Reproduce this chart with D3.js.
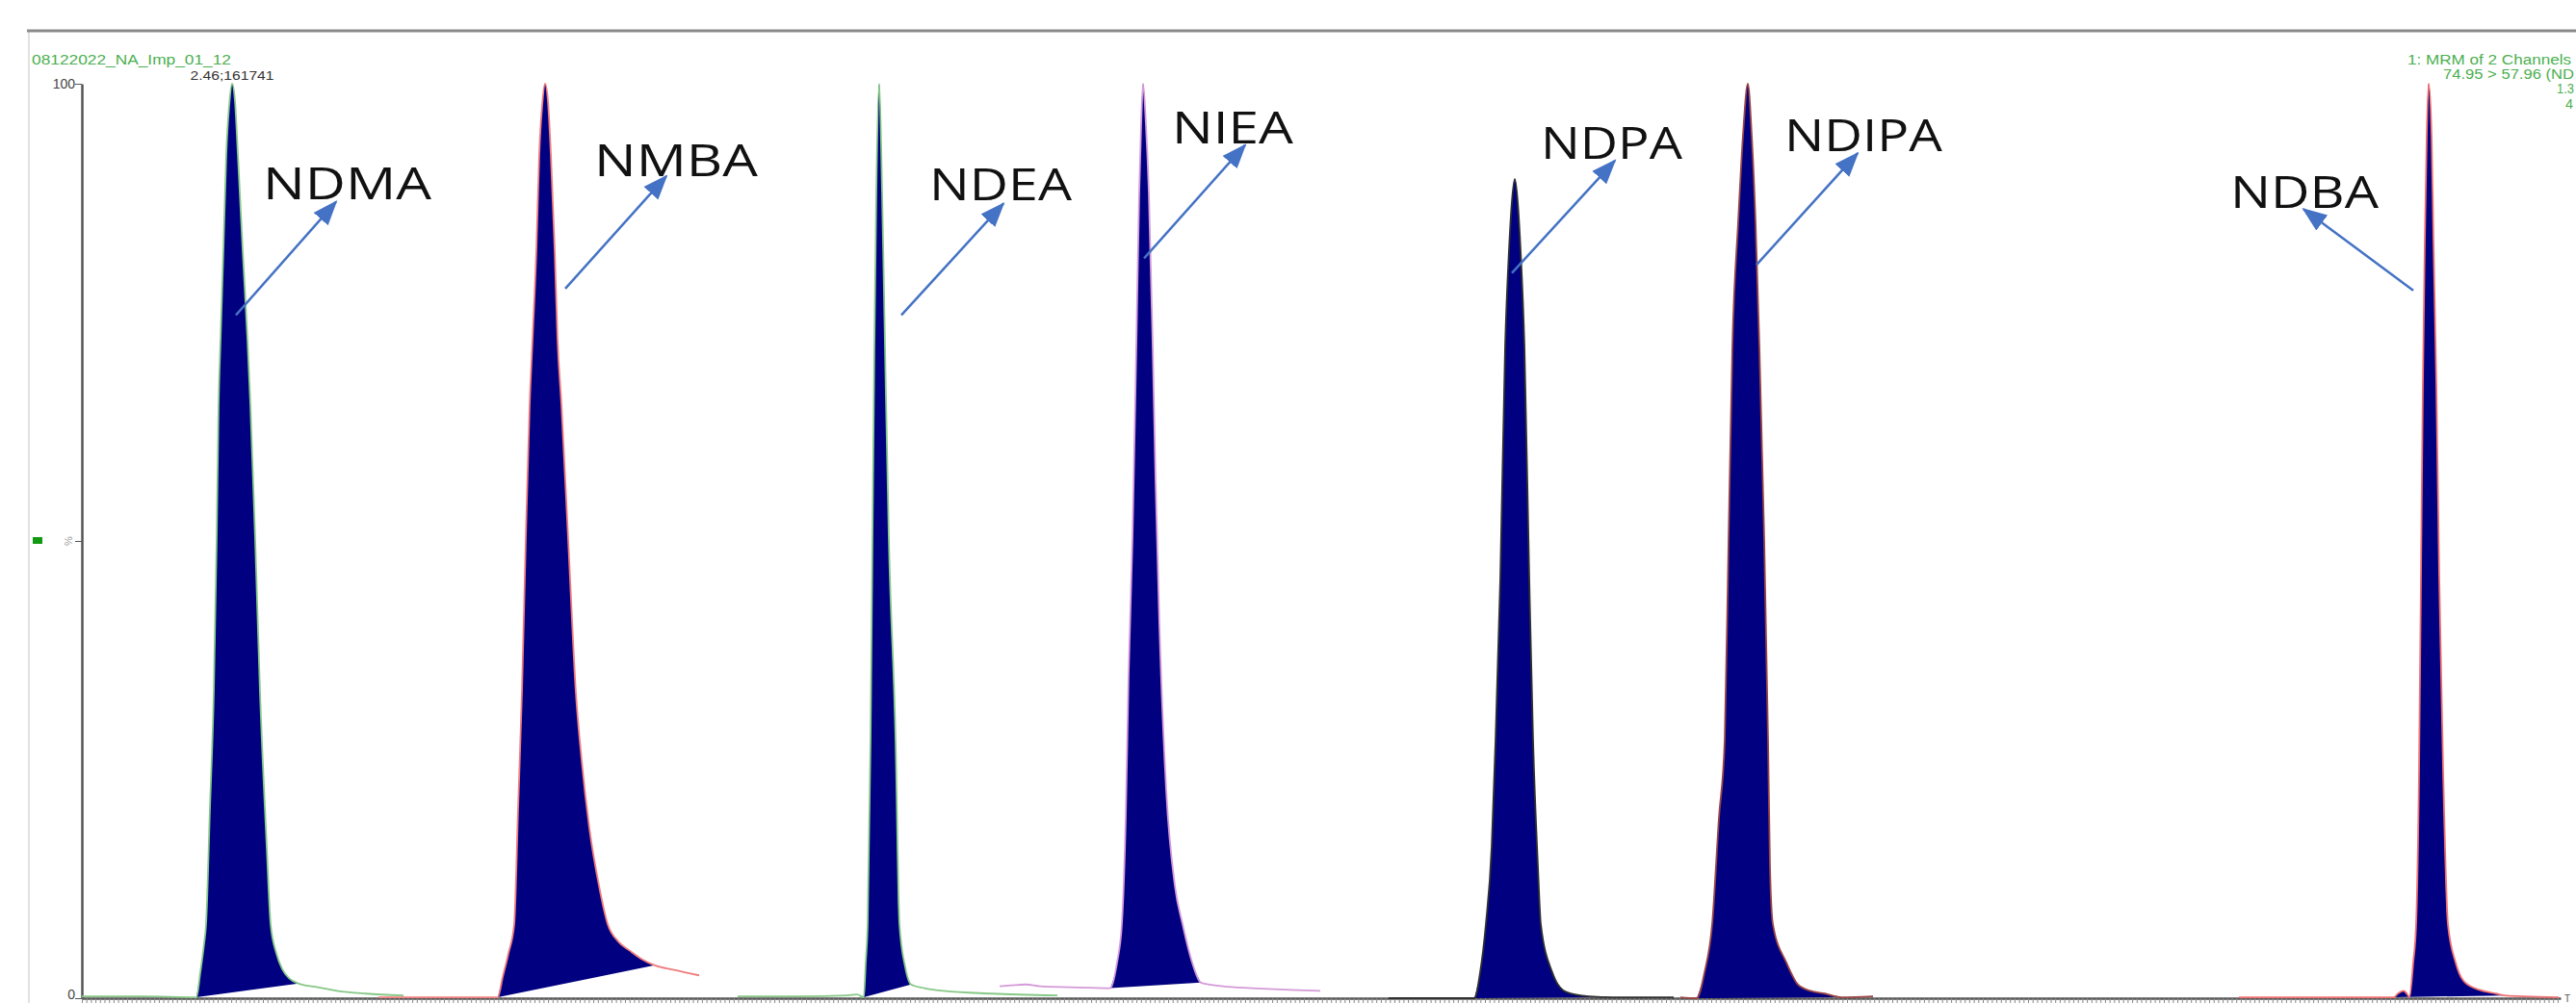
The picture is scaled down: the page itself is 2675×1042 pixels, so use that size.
<!DOCTYPE html>
<html>
<head>
<meta charset="utf-8">
<script src="https://cdn.jsdelivr.net/npm/d3@7"></script>
<style>
  html, body { margin: 0; padding: 0; background: #fff; overflow: hidden; }
  svg { display: block; font-family: "Liberation Sans", Arial, sans-serif; }
</style>
</head>
<body>
<svg id="chart"></svg>
<script>
// compounds in elution order
const compounds = ["NDMA", "NMBA", "NDEA", "NIEA", "NDPA", "NDIPA", "NDBA"];

// chromatogram traces, [time (min), intensity (%)]
const ndmaTrace = [
  [1.680, 0.2], [2.005, 0.2], [2.275, 0.1],
  [2.295, 2.8], [2.315, 6.0], [2.325, 8.1], [2.345, 20.7], [2.365, 33.4], [2.380, 50.2], [2.390, 64.9],
  [2.400, 72.0], [2.415, 81.8], [2.430, 92.3], [2.445, 97.6], [2.460, 100],
  [2.475, 98.1], [2.490, 92.3], [2.515, 81.8], [2.540, 72.0], [2.555, 64.9], [2.580, 50.2], [2.605, 33.4],
  [2.640, 16.5], [2.660, 8.1], [2.690, 4.9], [2.720, 3.2], [2.755, 2.2], [2.805, 1.6],
  [2.905, 1.2], [3.005, 0.8], [3.155, 0.5], [3.350, 0.3]
];
const nmbaTrace = [
  [3.220, 0.1], [3.505, 0.1], [3.840, 0.1],
  [3.865, 2.3], [3.895, 4.9], [3.925, 8.1], [3.945, 20.7], [3.965, 33.4], [3.985, 50.2], [4.005, 64.9],
  [4.020, 72.0], [4.040, 81.8], [4.055, 92.3], [4.070, 97.6], [4.085, 100],
  [4.100, 98.1], [4.115, 92.3], [4.135, 81.8], [4.150, 72.0], [4.170, 64.9], [4.205, 50.2], [4.245, 33.4],
  [4.275, 26.0], [4.315, 18.6], [4.365, 12.3], [4.410, 8.1], [4.465, 6.2], [4.525, 5.2], [4.585, 4.3], [4.655, 3.6],
  [4.755, 3.1], [4.885, 2.5]
];
const ndeaTrace = [
  [5.085, 0.2], [5.405, 0.2], [5.655, 0.3], [5.705, 0.4], [5.740, 0.1],
  [5.750, 3.9], [5.760, 8.1], [5.775, 28.2], [5.785, 50.2], [5.795, 71.3], [5.805, 88.1], [5.820, 100],
  [5.835, 88.1], [5.850, 71.3], [5.870, 50.2], [5.905, 28.2], [5.925, 8.1], [5.955, 3.4], [5.985, 1.5],
  [6.055, 1.1], [6.155, 0.8], [6.405, 0.5], [6.745, 0.3]
];
const nieaTrace = [
  [6.445, 1.3], [6.505, 1.4], [6.580, 1.5], [6.655, 1.3], [6.805, 1.2], [7.020, 1.1],
  [7.055, 3.9], [7.080, 8.1], [7.100, 19.7], [7.115, 35.5], [7.135, 50.2], [7.155, 71.3], [7.170, 88.1],
  [7.180, 95.5], [7.190, 100],
  [7.205, 95.5], [7.220, 88.1], [7.240, 71.3], [7.255, 56.5], [7.275, 40.7], [7.310, 22.8], [7.355, 12.3],
  [7.395, 8.1], [7.445, 3.9], [7.490, 1.7],
  [7.605, 1.3], [7.755, 1.1], [7.955, 0.9], [8.110, 0.8]
];
const ndpaTrace = [
  [8.465, 0.0], [8.705, 0.0], [8.910, 0.0],
  [8.940, 2.8], [8.970, 8.1], [9.000, 16.5], [9.020, 28.1], [9.045, 46.0], [9.070, 71.3], [9.090, 81.8],
  [9.105, 87.1], [9.120, 89.6],
  [9.135, 87.1], [9.150, 81.8], [9.170, 71.3], [9.195, 46.0], [9.215, 28.1], [9.240, 14.4], [9.255, 8.1],
  [9.315, 2.8], [9.385, 0.7], [9.505, 0.2], [9.630, 0.1],
  [9.755, 0.1], [9.945, 0.1]
];
const ndipaTrace = [
  [9.980, 0.1], [10.065, 0.0],
  [10.105, 2.8], [10.145, 8.1], [10.180, 19.7], [10.210, 28.2], [10.230, 50.2], [10.250, 71.3], [10.280, 84.9],
  [10.305, 94.4], [10.330, 100],
  [10.350, 94.4], [10.370, 84.9], [10.390, 71.3], [10.415, 50.2], [10.435, 28.2], [10.445, 14.4], [10.460, 8.1],
  [10.530, 3.9], [10.590, 1.5], [10.655, 0.8], [10.730, 0.5], [10.815, 0.1],
  [10.980, 0.2]
];
const ndbaTrace = [
  [12.880, 0.1], [13.255, 0.1], [13.685, 0.1], [13.705, 0.5], [13.735, 0.8], [13.755, 0.4], [13.765, 0.1],
  [13.785, 3.9], [13.800, 8.1], [13.815, 24.9], [13.825, 46.0], [13.835, 67.1], [13.845, 82.8], [13.855, 94.4],
  [13.865, 100],
  [13.880, 94.4], [13.890, 82.8], [13.905, 67.1], [13.920, 46.0], [13.940, 24.9], [13.965, 8.1], [14.005, 3.9],
  [14.050, 1.8], [14.130, 0.9], [14.215, 0.5], [14.255, 0.3],
  [14.355, 0.2], [14.540, 0.1]
];
const traces = [ndmaTrace, nmbaTrace, ndeaTrace, nieaTrace, ndpaTrace, ndipaTrace, ndbaTrace];

// integration limits (min)
const integStart = [2.275, 3.840, 5.740, 7.020, 8.910, 10.065, 13.685];
const integEnd   = [2.805, 4.655, 5.985, 7.490, 9.630, 10.815, 14.255];

// annotation anchors [time, %]
const labelAt   = [[2.620, 87.4], [4.340, 89.9], [6.080, 87.3], [7.340, 93.5], [9.255, 91.8], [10.520, 92.6], [12.835, 86.4]];
const arrowFrom = [[2.480, 74.7], [4.190, 77.6], [5.935, 74.7], [7.195, 80.9], [9.105, 79.3], [10.375, 80.2], [13.785, 77.4]];
const arrowTo   = [[3.000, 87.1], [4.715, 89.9], [6.465, 86.9], [7.720, 93.3], [9.640, 91.6], [10.900, 92.4], [13.215, 86.3]];

// axes
const timeDomain = [1.68, 14.55];
const yTicks = [0, 50, 100];
const yTickLabels = ["0", "", "100"];

// header texts (as far as they show before the right edge)
const sampleName = "08122022_NA_Imp_01_12";
const apexTime = 2.46;
const apexLabel = "2.46;161741";
const channelInfo = ["1: MRM of 2 Channels", "74.95 > 57.96 (ND", "1.3", "4"];
const timeLabel = "T";

// ---- drawing ----
const W = 2675, H = 1042;
const traceColor = ["#86c886", "#f07c7c", "#86c886", "#d49ad8", "#303030", "#9a4545", "#f07070"];
const labelWidth = [175, 170, 148, 126, 147, 164, 154];

const svg = d3.select("#chart").attr("width", W).attr("height", H);
svg.append("rect").attr("width", W).attr("height", H).attr("fill", "#fff");

const x = d3.scaleLinear().domain(timeDomain).range([85, 2659]);
const y = d3.scaleLinear().domain([0, 100]).range([1037, 87]);

// frame
svg.append("line").attr("x1", 30).attr("x2", 30).attr("y1", 32).attr("y2", H)
  .attr("stroke", "#e2e2e2").attr("stroke-width", 2);
svg.append("line").attr("x1", 28).attr("x2", W).attr("y1", 32).attr("y2", 32)
  .attr("stroke", "#8a8a8a").attr("stroke-width", 3);

// header
svg.append("text").attr("x", 33).attr("y", 67).attr("fill", "#4caf50")
  .attr("font-size", 14).attr("textLength", 207).attr("lengthAdjust", "spacingAndGlyphs")
  .text(sampleName);

const hdr = svg.append("g").attr("fill", "#4caf50").attr("font-size", 14);
const hdrPos = [[2500, 67], [2537, 82], [2655, 97], [2664, 113]];
const hdrLen = [170, 136, 18, 8];
channelInfo.forEach((t, i) => {
  hdr.append("text").attr("x", hdrPos[i][0]).attr("y", hdrPos[i][1])
    .attr("textLength", hdrLen[i]).attr("lengthAdjust", "spacingAndGlyphs")
    .text(t);
});

svg.append("text").attr("x", x(apexTime)).attr("y", y(100) - 4)
  .attr("text-anchor", "middle").attr("fill", "#333").attr("font-size", 12)
  .attr("textLength", 87).attr("lengthAdjust", "spacingAndGlyphs")
  .text(apexLabel);

// axes
const xTicks = d3.range(timeDomain[0], timeDomain[1], 0.0235);
const xAxis = svg.append("g").attr("transform", `translate(0,${y(0)})`)
  .call(d3.axisBottom(x).tickValues(xTicks).tickSize(6).tickSizeOuter(0).tickFormat(""));
xAxis.select(".domain").attr("stroke", "#555").attr("stroke-width", 2.5);
xAxis.selectAll(".tick line").attr("stroke", "#8a8a8a").attr("stroke-width", 1);

const yAxis = svg.append("g").attr("transform", "translate(85,0)")
  .call(d3.axisLeft(y).tickValues(yTicks).tickSize(7).tickSizeOuter(0)
    .tickFormat((d, i) => yTickLabels[i]));
yAxis.select(".domain").attr("stroke", "#555").attr("stroke-width", 2.5);
yAxis.selectAll(".tick line").attr("stroke", "#555");
yAxis.selectAll(".tick text").attr("font-size", 14).attr("fill", "#444").attr("x", -7)
  .attr("font-family", "Liberation Sans, Arial, sans-serif")
  .attr("y", d => d === 0 ? -4 : 0);

svg.append("text").attr("transform", `translate(75,${y(50)}) rotate(-90)`)
  .attr("text-anchor", "middle").attr("font-size", 11).attr("fill", "#999").text("%");
svg.append("rect").attr("x", 34).attr("y", y(50) - 4).attr("width", 10).attr("height", 7)
  .attr("fill", "#119a11");

svg.append("text").attr("x", 2663).attr("y", 1041).attr("font-size", 10).attr("fill", "#555").text(timeLabel);

// peaks
const line = d3.line().x(d => x(d[0])).y(d => y(d[1])).curve(d3.curveMonotoneX);
const peaks = svg.append("g");
traces.forEach((tr, i) => {
  const inside = tr.filter(d => d[0] >= integStart[i] && d[0] <= integEnd[i]);
  peaks.append("path").attr("d", line(inside) + "Z").attr("fill", "#000080").attr("stroke", "none");
  peaks.append("path").attr("d", line(tr)).attr("fill", "none")
    .attr("stroke", traceColor[i]).attr("stroke-width", 1.8);
});

// annotations
svg.append("defs").append("marker").attr("id", "head")
  .attr("markerUnits", "userSpaceOnUse").attr("markerWidth", 26).attr("markerHeight", 22)
  .attr("refX", 24).attr("refY", 11).attr("orient", "auto")
  .append("path").attr("d", "M0,1 L26,11 L0,21 Z").attr("fill", "#4472c4");

const ann = svg.append("g");
compounds.forEach((name, i) => {
  ann.append("line")
    .attr("x1", x(arrowFrom[i][0])).attr("y1", y(arrowFrom[i][1]))
    .attr("x2", x(arrowTo[i][0])).attr("y2", y(arrowTo[i][1]))
    .attr("stroke", "#4472c4").attr("stroke-width", 2.5).attr("marker-end", "url(#head)");
  ann.append("text").attr("x", x(labelAt[i][0])).attr("y", y(labelAt[i][1]))
    .attr("font-family", "'Open Sans', sans-serif").attr("font-size", 46).attr("fill", "#111")
    .attr("textLength", labelWidth[i]).attr("lengthAdjust", "spacingAndGlyphs")
    .text(name);
});
</script>
</body>
</html>
